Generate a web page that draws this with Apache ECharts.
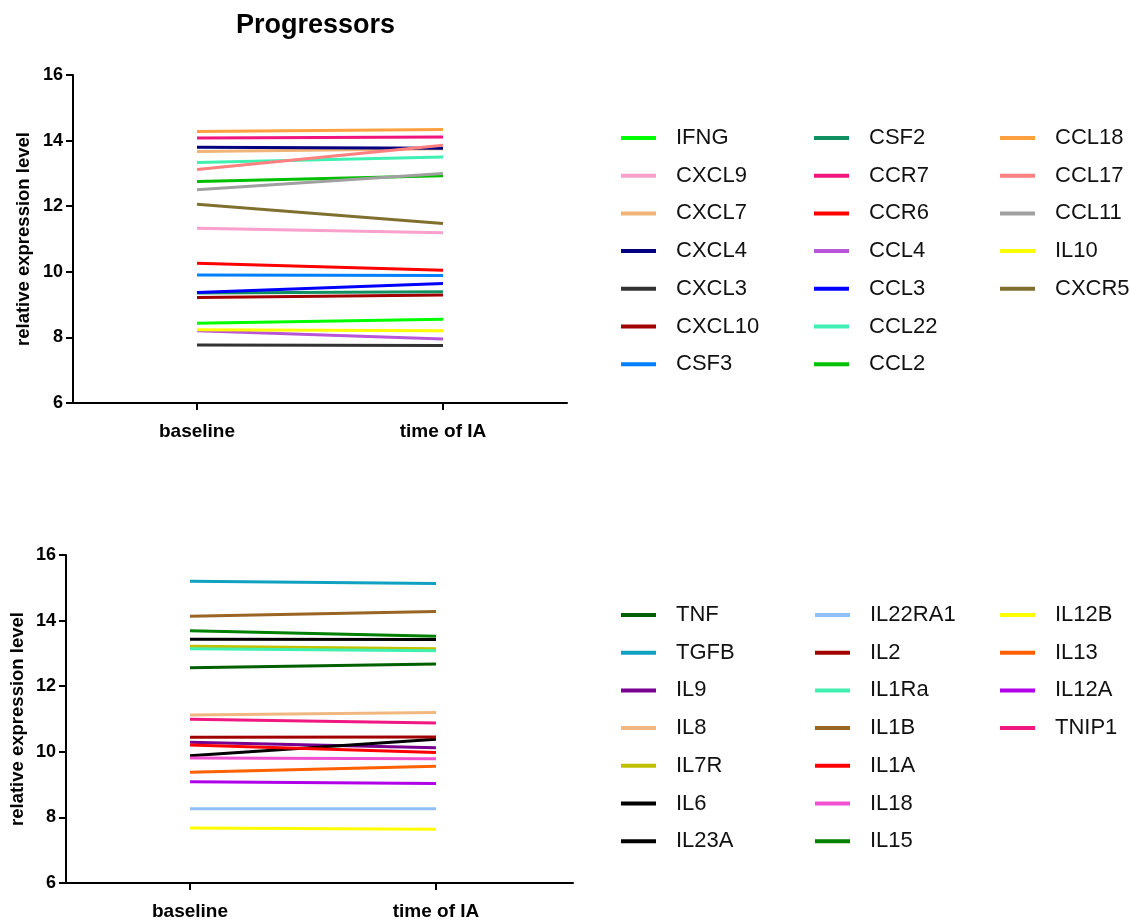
<!DOCTYPE html>
<html><head><meta charset="utf-8">
<script src="https://cdn.jsdelivr.net/npm/echarts@6/dist/echarts.min.js"></script>
<style>html,body{margin:0;padding:0;background:#fff}#c{width:1130px;height:922px}</style>
</head><body><div id="c"></div>
<script>
const categories = ['baseline', 'time of IA'];
const categoryPos = [0, 1];
const yTicks = [6, 8, 10, 12, 14, 16];

// Top panel (Progressors)
const topNames = ['IFNG','CXCL9','CXCL7','CXCL4','CXCL3','CXCL10','CSF3','CSF2','CCR7','CCR6','CCL4','CCL3','CCL22','CCL2','CCL18','CCL17','CCL11','IL10','CXCR5'];
const topColors = ['#00FF00','#F9A0CC','#F0B478','#000080','#333333','#A00000','#0080FF','#109060','#F0147C','#FF0000','#B855D8','#0000FF','#40F0B0','#00C000','#FFA040','#FF8080','#A0A0A0','#FFFF00','#807030'];
const IFNG = [8.43, 8.55];
const CXCL9 = [11.33, 11.19];
const CXCL7 = [13.67, 13.75];
const CXCL4 = [13.80, 13.77];
const CXCL3 = [7.77, 7.75];
const CXCL10 = [9.22, 9.29];
const CSF3 = [9.90, 9.89];
const CSF2 = [9.35, 9.39];
const CCR7 = [14.08, 14.11];
const CCR6 = [10.26, 10.05];
const CCL4 = [8.20, 7.95];
const CCL3 = [9.37, 9.64];
const CCL22 = [13.33, 13.50];
const CCL2 = [12.75, 12.93];
const CCL18 = [14.28, 14.34];
const CCL17 = [13.12, 13.86];
const CCL11 = [12.50, 13.00];
const IL10 = [8.23, 8.20];
const CXCR5 = [12.06, 11.47];
const topValues = [IFNG,CXCL9,CXCL7,CXCL4,CXCL3,CXCL10,CSF3,CSF2,CCR7,CCR6,CCL4,CCL3,CCL22,CCL2,CCL18,CCL17,CCL11,IL10,CXCR5];

// Bottom panel
const botNames = ['TNF','TGFB','IL9','IL8','IL7R','IL6','IL23A','IL22RA1','IL2','IL1Ra','IL1B','IL1A','IL18','IL15','IL12B','IL13','IL12A','TNIP1'];
const botColors = ['#006000','#10A0C0','#780090','#F0B880','#C0C000','#000000','#000000','#90C0F8','#A00000','#40F0B0','#9A6424','#FF0000','#F050D0','#008000','#FFFF00','#FF6000','#B000E8','#F01880'];
const TNF = [12.56, 12.68];
const TGFB = [15.20, 15.13];
const IL9 = [10.29, 10.12];
const IL8 = [11.12, 11.20];
const IL7R = [13.22, 13.14];
const IL6 = [13.43, 13.42];
const IL23A = [9.88, 10.38];
const IL22RA1 = [8.26, 8.26];
const IL2 = [10.44, 10.45];
const IL1Ra = [13.14, 13.08];
const IL1B = [14.13, 14.28];
const IL1A = [10.21, 9.98];
const IL18 = [9.81, 9.79];
const IL15 = [13.69, 13.52];
const IL12B = [7.68, 7.64];
const IL13 = [9.38, 9.56];
const IL12A = [9.09, 9.03];
const TNIP1 = [10.99, 10.88];
const botValues = [TNF,TGFB,IL9,IL8,IL7R,IL6,IL23A,IL22RA1,IL2,IL1Ra,IL1B,IL1A,IL18,IL15,IL12B,IL13,IL12A,TNIP1];

const FONT = 'Arial, "Liberation Sans", sans-serif';
const chart = echarts.init(document.getElementById('c'), null, {renderer: 'canvas'});

function xAxisCfg(gi, min, max) {
  return {
    type: 'value', gridIndex: gi, min: min, max: max,
    axisLine: {show: true, onZero: false, lineStyle: {color: '#000', width: 2}},
    axisTick: {show: true, length: 7, customValues: categoryPos, lineStyle: {color: '#000', width: 2}},
    axisLabel: {color: '#000', fontWeight: 'bold', fontSize: 19, fontFamily: FONT, margin: 19,
      customValues: categoryPos, formatter: v => categories[Math.round(v)] || ''},
    splitLine: {show: false}
  };
}
function yAxisCfg(gi, gap) {
  return {
    type: 'value', gridIndex: gi, min: 6, max: 16, interval: 2,
    name: 'relative expression level', nameLocation: 'middle', nameGap: gap, nameRotate: 90,
    nameTextStyle: {color: '#000', fontWeight: 'bold', fontSize: 18.5, fontFamily: FONT},
    axisLine: {show: true, onZero: false, lineStyle: {color: '#000', width: 2}},
    axisTick: {show: true, length: 7, lineStyle: {color: '#000', width: 2}},
    axisLabel: {color: '#000', fontWeight: 'bold', fontSize: 18, fontFamily: FONT, margin: 10,
      formatter: v => yTicks.includes(v) ? String(v) : ''},
    splitLine: {show: false}
  };
}
function legendCfg(names, left, top) {
  return {
    orient: 'vertical', left: left, top: top, data: names, padding: 0,
    icon: 'rect', itemWidth: 35, itemHeight: 4, itemGap: 11.7,
    selectedMode: false,
    textStyle: {color: '#111', fontSize: 22, fontFamily: FONT, lineHeight: 26, padding: [0, 0, 0, 15]}
  };
}

const series = [];
topNames.forEach((n, i) => series.push({
  name: n, type: 'line', xAxisIndex: 0, yAxisIndex: 0,
  data: topValues[i].map((v, k) => [categoryPos[k], v]),
  symbol: 'none', lineStyle: {width: 3, color: topColors[i]}, itemStyle: {color: topColors[i]}, silent: true, animation: false
}));
botNames.forEach((n, i) => series.push({
  name: n, type: 'line', xAxisIndex: 1, yAxisIndex: 1,
  data: botValues[i].map((v, k) => [categoryPos[k], v]),
  symbol: 'none', lineStyle: {width: 3, color: botColors[i]}, itemStyle: {color: botColors[i]}, silent: true, animation: false
}));

chart.setOption({
  animation: false,
  backgroundColor: '#fff',
  title: {text: 'Progressors', left: 231, top: 7,
    textStyle: {color: '#000', fontWeight: 'bold', fontSize: 27, fontFamily: FONT}},
  grid: [
    {left: 73, top: 75, width: 494, height: 328},
    {left: 66, top: 555, width: 507, height: 328}
  ],
  xAxis: [xAxisCfg(0, -0.504, 1.504), xAxisCfg(1, -0.504, 1.557)],
  yAxis: [yAxisCfg(0, 40), yAxisCfg(1, 39)],
  legend: [
    legendCfg(topNames.slice(0, 7), 621, 125),
    legendCfg(topNames.slice(7, 14), 814, 125),
    legendCfg(topNames.slice(14), 1000, 125),
    legendCfg(botNames.slice(0, 7), 621, 602),
    legendCfg(botNames.slice(7, 14), 815, 602),
    legendCfg(botNames.slice(14), 1000, 602)
  ],
  series: series
});
</script></body></html>
